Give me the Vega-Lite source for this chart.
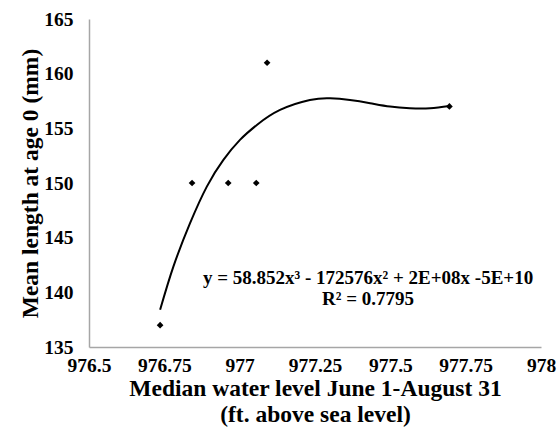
{
  "$schema": "https://vega.github.io/schema/vega-lite/v6.json",
  "width": 452,
  "height": 328,
  "autosize": {"type": "none"},
  "padding": {"left": 89, "top": 19, "right": 17, "bottom": 86},
  "background": "white",
  "config": {
    "view": {"stroke": null},
    "font": "Liberation Serif",
    "axis": {
      "grid": false,
      "ticks": false,
      "domainColor": "#a6a6a6",
      "domainWidth": 1.5,
      "labelFont": "Liberation Serif",
      "labelFontWeight": "bold",
      "labelFontSize": 19.5,
      "labelColor": "#000000",
      "titleFont": "Liberation Serif",
      "titleFontWeight": "bold",
      "titleFontSize": 23.5,
      "titleColor": "#000000"
    }
  },
  "datasets": {
    "obs": [
      {"level": 976.736, "length": 137},
      {"level": 976.842, "length": 150},
      {"level": 976.962, "length": 150},
      {"level": 977.055, "length": 150},
      {"level": 977.091, "length": 161},
      {"level": 977.696, "length": 157}
    ],
    "trend": [
      {"level": 976.736, "length": 138.4},
      {"level": 976.780, "length": 142.35},
      {"level": 976.835, "length": 146.3},
      {"level": 976.891, "length": 149.67},
      {"level": 976.946, "length": 152.11},
      {"level": 977.001, "length": 153.94},
      {"level": 977.057, "length": 155.31},
      {"level": 977.134, "length": 156.68},
      {"level": 977.233, "length": 157.59},
      {"level": 977.300, "length": 157.75},
      {"level": 977.366, "length": 157.59},
      {"level": 977.433, "length": 157.3},
      {"level": 977.499, "length": 156.99},
      {"level": 977.565, "length": 156.84},
      {"level": 977.632, "length": 156.84},
      {"level": 977.696, "length": 157.05}
    ],
    "note": [
      {"level": 977.426, "length": 141.3, "label": ["y = 58.852x³ - 172576x² + 2E+08x -5E+10", "R² = 0.7795"]}
    ]
  },
  "layer": [
    {
      "data": {"name": "trend"},
      "mark": {"type": "line", "color": "#000000", "strokeWidth": 2, "interpolate": "natural"},
      "encoding": {
        "x": {
          "field": "level", "type": "quantitative",
          "scale": {"domain": [976.5, 978], "nice": false, "zero": false},
          "axis": {"values": [976.5, 976.75, 977, 977.25, 977.5, 977.75, 978], "format": ".2~f", "labelPadding": 9, "labelFlush": false, "labelOverlap": false,
                   "title": ["Median water level June 1-August 31", "(ft. above sea level)"], "titlePadding": 2, "titleLineHeight": 26}
        },
        "y": {
          "field": "length", "type": "quantitative",
          "scale": {"domain": [135, 165], "nice": false, "zero": false},
          "axis": {"values": [135, 140, 145, 150, 155, 160, 165], "labelPadding": 16, "labelFlush": false, "labelOverlap": false,
                   "title": "Mean length at age 0 (mm)", "titlePadding": 1}
        }
      }
    },
    {
      "data": {"name": "obs"},
      "mark": {"type": "point", "shape": "diamond", "filled": true, "color": "#000000", "size": 45, "opacity": 1},
      "encoding": {
        "x": {"field": "level", "type": "quantitative"},
        "y": {"field": "length", "type": "quantitative"}
      }
    },
    {
      "data": {"name": "note"},
      "mark": {"type": "text", "font": "Liberation Serif", "fontWeight": "bold", "fontSize": 19, "color": "#000000", "align": "center", "baseline": "middle", "lineHeight": 21},
      "encoding": {
        "x": {"field": "level", "type": "quantitative"},
        "y": {"field": "length", "type": "quantitative"},
        "text": {"field": "label"}
      }
    }
  ]
}
